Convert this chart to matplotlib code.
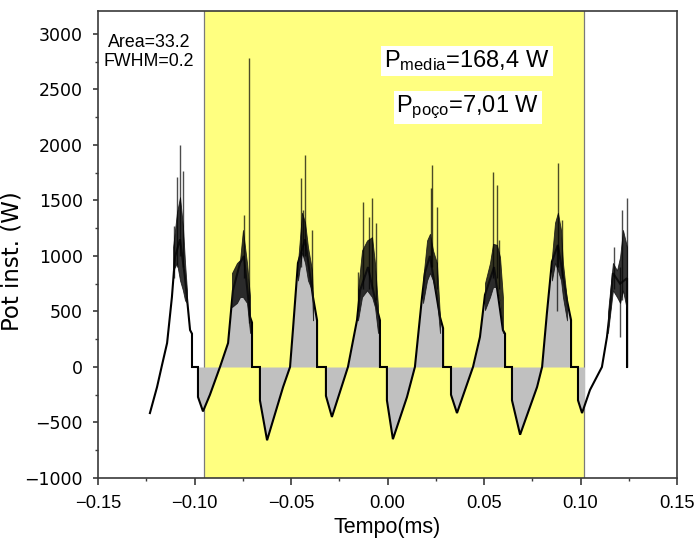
import matplotlib
matplotlib.use("Agg")
import matplotlib.pyplot as plt
from matplotlib.patches import Rectangle
from matplotlib.ticker import FixedLocator, MultipleLocator

# ---------------- data ----------------
# instantaneous power trace (time in ms, power in W); repeated times are the vertical drops
t_trace = [-0.1231, -0.1194, -0.1168, -0.1142, -0.1117, -0.1101, -0.1075, -0.1049, -0.1023,
           -0.1013, -0.1013, -0.0982, -0.0982, -0.0956, -0.0920, -0.0868, -0.0826, -0.0801,
           -0.0764, -0.0744, -0.0712, -0.0702, -0.0702, -0.0661, -0.0661, -0.0624, -0.0541,
           -0.0505, -0.0490, -0.0464, -0.0427, -0.0386, -0.0365, -0.0365, -0.0319, -0.0319,
           -0.0288, -0.0205, -0.0158, -0.0142, -0.0101, -0.0049, -0.0039, -0.0039, -0.0003,
           -0.0003, 0.0028, 0.0101, 0.0142, 0.0179, 0.0194, 0.0220, 0.0272, 0.0288, 0.0288,
           0.0329, 0.0329, 0.0360, 0.0443, 0.0479, 0.0505, 0.0552, 0.0598, 0.0609, 0.0609,
           0.0645, 0.0645, 0.0687, 0.0775, 0.0801, 0.0826, 0.0852, 0.0883, 0.0930, 0.0951,
           0.0951, 0.0987, 0.0987, 0.1008, 0.1049, 0.1111, 0.1137, 0.1153, 0.1168, 0.1205,
           0.1241, 0.1241]
p_trace = [-415, -180, 20, 216, 630, 990, 1150, 800, 333,
           300, 0, 0, -270, -400, -250, 0, 216, 690,
           937, 1000, 450, 400, 0, 0, -300, -660, -180,
           0, 333, 937, 1150, 630, 420, 0, 0, -260,
           -450, 0, 423, 690, 900, 486, 420, 0, 0,
           -300, -650, -270, 0, 630, 850, 1000, 450, 350, 0,
           0, -250, -415, 0, 270, 650, 900, 333, 300, 0,
           0, -300, -610, -180, 0, 486, 950, 1100, 600, 423,
           0, 0, -300, -415, -207, 0, 270, 513, 846, 750,
           800, 0]

# dense noise envelope around each peak
band_t = [[-0.1111, -0.1091, -0.1075, -0.1060, -0.1049, -0.1039],
          [-0.0806, -0.0780, -0.0764, -0.0749, -0.0728, -0.0712],
          [-0.0464, -0.0443, -0.0427, -0.0412, -0.0391, -0.0386],
          [-0.0153, -0.0132, -0.0106, -0.0080, -0.0065, -0.0049],
          [0.0184, 0.0205, 0.0220, 0.0236, 0.0256, 0.0272],
          [0.0505, 0.0531, 0.0547, 0.0567, 0.0583, 0.0598],
          [0.0852, 0.0868, 0.0883, 0.0899, 0.0909, 0.0930],
          [0.1142, 0.1168, 0.1189, 0.1205, 0.1220, 0.1241]]
band_hi = [[1080, 1390, 1530, 1270, 937, 690],
           [846, 937, 964, 1234, 937, 630],
           [937, 1390, 1300, 1080, 870, 630],
           [690, 1050, 1140, 1170, 937, 540],
           [780, 1140, 1200, 1050, 937, 450],
           [755, 937, 1110, 1100, 990, 630],
           [990, 1300, 1390, 1234, 937, 600],
           [486, 937, 870, 990, 1234, 1080]]
band_lo = [[870, 937, 780, 690, 600, 577],
           [540, 577, 630, 630, 577, 306],
           [780, 1030, 937, 780, 690, 420],
           [420, 630, 690, 630, 540, 306],
           [577, 780, 846, 780, 630, 306],
           [513, 630, 720, 720, 577, 306],
           [780, 937, 870, 780, 630, 420],
           [306, 690, 630, 577, 690, 513]]

# isolated spikes
spike_t = [-0.1075, -0.1060, -0.1091, -0.1106,
           -0.0744, -0.0718,
           -0.0427, -0.0448, -0.0391, -0.0438,
           -0.0127, -0.0096, -0.0080, -0.0060, -0.0153,
           0.0231, 0.0225, 0.0256,
           0.0547, 0.0567, 0.0578,
           0.0883, 0.0904, 0.0878,
           0.1215, 0.1241, 0.1174, 0.1205]
spike_lo = [1000, 900, 900, 800,
            800, 400,
            1000, 900, 700, 1000,
            700, 700, 700, 600, 500,
            900, 900, 700,
            800, 800, 700,
            900, 800, 500,
            600, 0, 700, 270]
spike_hi = [2000, 1770, 1710, 1270,
            1370, 2780,
            1910, 1700, 1234, 1410,
            1490, 1350, 1520, 1300, 860,
            1820, 1610, 1440,
            1760, 1640, 1140,
            1840, 1320, 1100,
            1410, 1520, 1080, 900]

window_start, window_end = -0.095, 0.102   # highlighted interval
fill_start = -0.0982                        # start of the integrated area

x_ticks = [-0.15, -0.10, -0.05, 0.00, 0.05, 0.10, 0.15]
x_labels = ["\u22120.15", "\u22120.10", "\u22120.05", "0.00", "0.05", "0.10", "0.15"]
y_ticks = [-1000, -500, 0, 500, 1000, 1500, 2000, 2500, 3000]
y_labels = ["\u22121000", "\u2212500", "0", "500", "1000", "1500", "2000", "2500", "3000"]

# ---------------- style ----------------
plt.rcParams["font.family"] = ["Liberation Sans", "DejaVu Sans"]
plt.rcParams["mathtext.fontset"] = "custom"
plt.rcParams["mathtext.rm"] = "Liberation Sans"
plt.rcParams["mathtext.it"] = "Liberation Sans:italic"
plt.rcParams["mathtext.bf"] = "Liberation Sans:bold"

spine_col = "#3a3a3a"

fig = plt.figure(figsize=(6.98, 5.43), dpi=100)
ax = fig.add_axes([98 / 698, 65 / 543, 579 / 698, 467 / 543])
ax.set_xlim(-0.15, 0.15)
ax.set_ylim(-1000, 3207)

# highlighted window
ax.axvspan(window_start, window_end, color="#ffff80", zorder=0, lw=0)
for xv in (window_start, window_end):
    ax.axvline(xv, color="#7a7a7a", lw=0.9, zorder=1)

# shaded area between the trace and zero inside the window
poly = ax.fill_between(t_trace, p_trace, 0, color="#c0c0c0", lw=0, zorder=2)
clip = Rectangle((fill_start, -1000), window_end - fill_start, 5000,
                 transform=ax.transData, visible=False)
ax.add_patch(clip)
poly.set_clip_path(clip)

# trace
ax.plot(t_trace, p_trace, color="black", lw=1.5, zorder=3, solid_joinstyle="miter")

# noisy bands around the peaks
for bt, bh, bl in zip(band_t, band_hi, band_lo):
    ax.fill_between(bt, bl, bh, color="#111111", alpha=0.85, lw=0.6, zorder=4)

# spikes
ax.vlines(spike_t, spike_lo, spike_hi, color="black", alpha=0.7, lw=1.0, zorder=5)

# annotations
ax.text(-0.1236, 2838, "Area=33.2\nFWHM=0.2", ha="center", va="center",
        multialignment="center", fontsize=12.8, linespacing=1.15, zorder=6)
box = dict(boxstyle="square,pad=0.12", fc="white", ec="none")
ax.text(0.0412, 2757, r"P$_{\mathrm{media}}$=168,4 W", ha="center", va="center",
        fontsize=17, bbox=box, zorder=6)
ax.text(0.0417, 2338, r"P$_{\mathrm{poço}}$=7,01 W", ha="center", va="center",
        fontsize=17, bbox=box, zorder=6)

# axes
ax.xaxis.set_major_locator(FixedLocator(x_ticks))
ax.xaxis.set_minor_locator(MultipleLocator(0.025))
ax.yaxis.set_major_locator(FixedLocator(y_ticks))
ax.yaxis.set_minor_locator(MultipleLocator(250))
ax.set_xticklabels(x_labels, fontsize=13.2, family="Liberation Sans")
ax.set_yticklabels(y_labels, fontsize=12.5, family="DejaVu Sans")
ax.tick_params(axis="x", which="major", direction="out", length=5, width=1.2,
               color=spine_col, pad=7, top=False)
ax.tick_params(axis="x", which="minor", direction="out", length=2.5, width=1.0,
               color=spine_col, top=False)
ax.tick_params(axis="y", which="major", direction="out", length=3.8, width=1.2,
               color=spine_col, pad=7, right=False)
ax.tick_params(axis="y", which="minor", direction="out", length=2.0, width=1.0,
               color=spine_col, right=False)
for s in ax.spines.values():
    s.set_color(spine_col)
    s.set_linewidth(1.2)

ax.set_xlabel("Tempo(ms)", fontsize=15.5, family="Liberation Sans", labelpad=4)
ax.set_ylabel("Pot inst. (W)", fontsize=16.5, family="DejaVu Sans")
ax.yaxis.set_label_coords(-0.128, 0.465)

fig.savefig("out.png", dpi=100)
